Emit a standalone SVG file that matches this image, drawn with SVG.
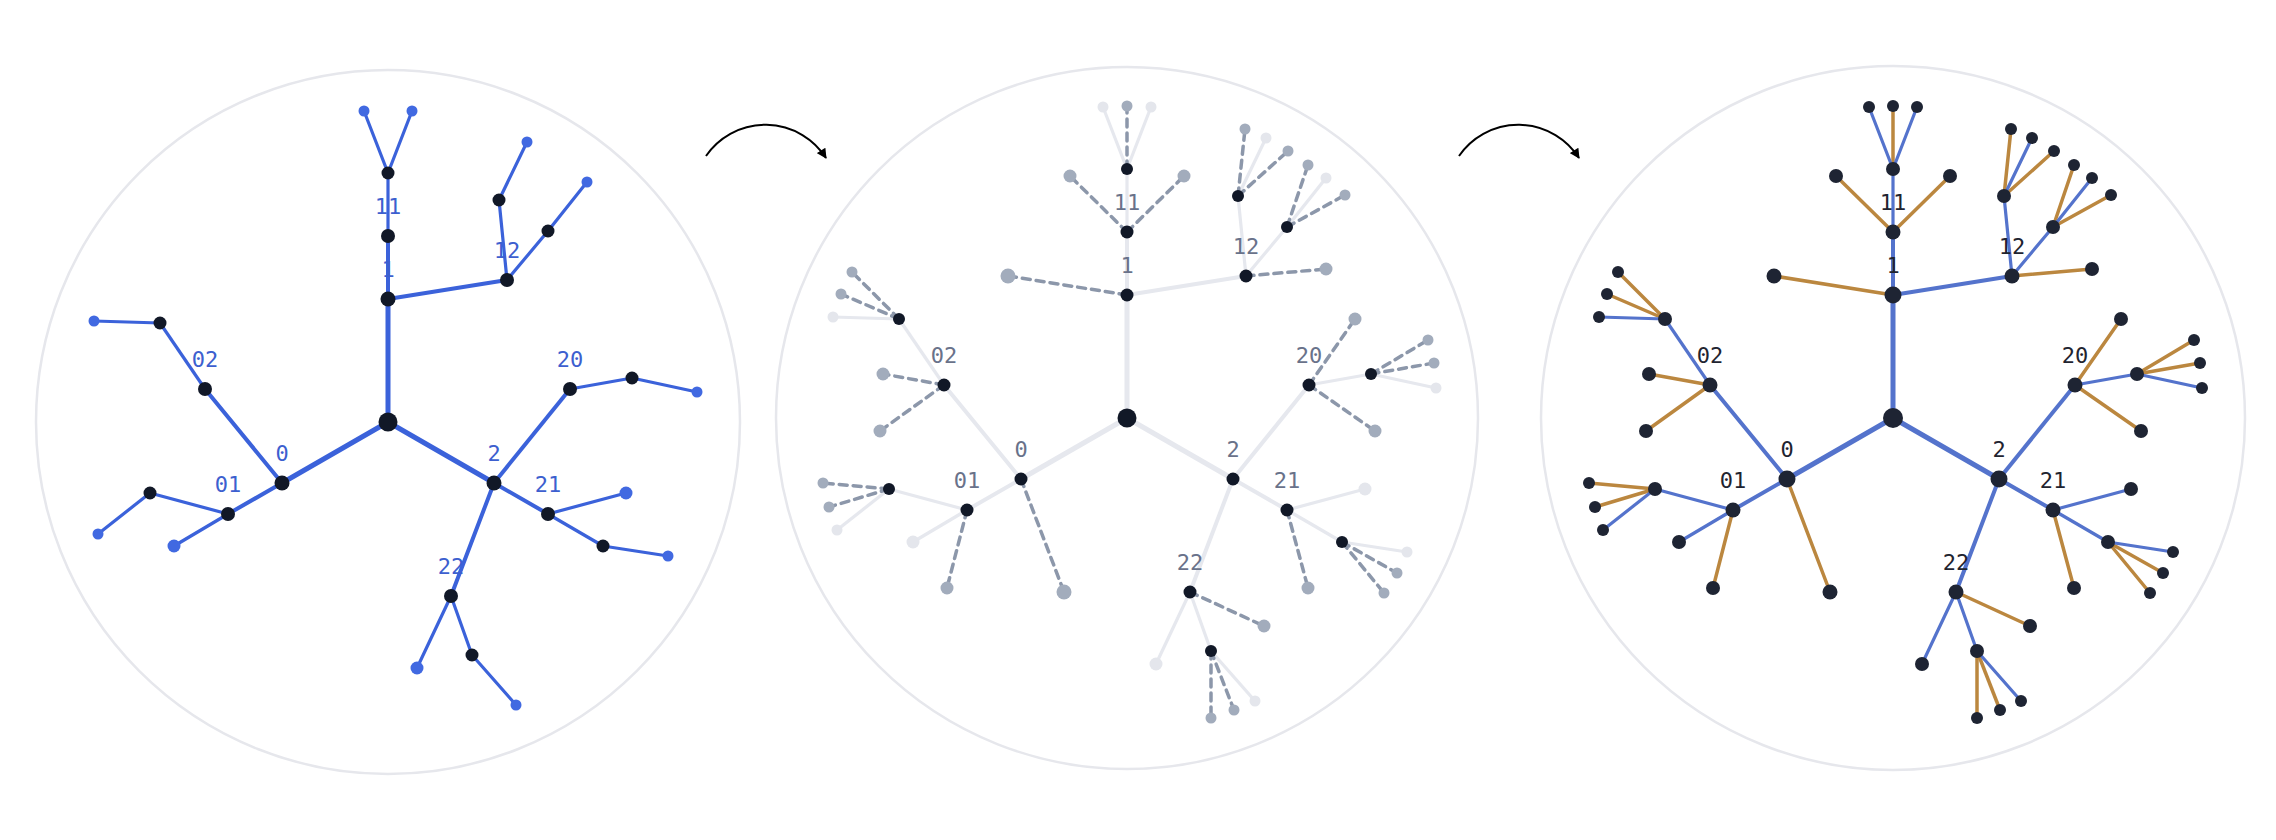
<svg xmlns="http://www.w3.org/2000/svg" width="2276" height="840" viewBox="0 0 2276 840">
<style>
.frame{fill:none;stroke:#e6e7ec;stroke-width:2.5}
line{stroke-linecap:round}
.w5{stroke-width:5}.w4{stroke-width:4}.w3{stroke-width:3.2}
.eL{stroke:#3b62da}
.eM{stroke:#e6e8ee}
.dM{stroke:#8c97aa;stroke-width:3.5;stroke-dasharray:8 6;stroke-linecap:butt}
.eR{stroke:#5473cc}
.oR{stroke:#bb873f;stroke-width:3.5}
.kL,.kM{fill:#111827}
.kR{fill:#1e2433}
.bL{fill:#4169e1}
.gM{fill:#a2acbc}
.pM{fill:#e4e6ec}
.lab{font-family:"DejaVu Sans Mono","Liberation Mono",monospace;font-size:22px;text-anchor:middle}
.tL{fill:#3d5fcf}.tM{fill:#69728a}.tR{fill:#1f2430}
.arrow{fill:none;stroke:#000;stroke-width:2}
</style>
<defs>
<marker id="ah" viewBox="0 0 10 10" refX="9" refY="5" markerUnits="userSpaceOnUse" markerWidth="11" markerHeight="10" orient="auto">
<path d="M0,0 L10,5 L0,10 z" fill="#000"/>
</marker>
</defs>

<g id="arrows">
<path class="arrow" d="M706,156 A72,72 0 0 1 826,158" marker-end="url(#ah)"/>
<path class="arrow" d="M1459,156 A72,72 0 0 1 1579,158" marker-end="url(#ah)"/>
</g>

<!-- LEFT PANEL -->
<g id="left-panel" transform="translate(388,422)">
<circle class="frame" r="352"/>
<g id="left-connectors" class="eL">
<line class="w5" x1="0" y1="0" x2="0" y2="-123"/>
<line class="w5" x1="0" y1="0" x2="-106" y2="61"/>
<line class="w5" x1="0" y1="0" x2="106" y2="61"/>
<line class="w4" x1="0" y1="-123" x2="0" y2="-186"/>
<line class="w4" x1="0" y1="-123" x2="119" y2="-142"/>
<line class="w4" x1="-106" y1="61" x2="-160" y2="92"/>
<line class="w4" x1="-106" y1="61" x2="-183" y2="-33"/>
<line class="w4" x1="106" y1="61" x2="160" y2="92"/>
<line class="w4" x1="106" y1="61" x2="182" y2="-33"/>
<line class="w4" x1="106" y1="61" x2="63" y2="174"/>
<line class="w3" x1="0" y1="-186" x2="0" y2="-249"/>
<line class="w3" x1="119" y1="-142" x2="111" y2="-222"/>
<line class="w3" x1="119" y1="-142" x2="160" y2="-191"/>
<line class="w3" x1="-183" y1="-33" x2="-228" y2="-99"/>
<line class="w3" x1="-160" y1="92" x2="-238" y2="71"/>
<line class="w3" x1="182" y1="-33" x2="244" y2="-44"/>
<line class="w3" x1="160" y1="92" x2="215" y2="124"/>
<line class="w3" x1="63" y1="174" x2="84" y2="233"/>
<line class="w3" x1="0" y1="-249" x2="-24" y2="-311"/>
<line class="w3" x1="0" y1="-249" x2="24" y2="-311"/>
<line class="w3" x1="111" y1="-222" x2="139" y2="-280"/>
<line class="w3" x1="160" y1="-191" x2="199" y2="-240"/>
<line class="w3" x1="-228" y1="-99" x2="-294" y2="-101"/>
<line class="w3" x1="244" y1="-44" x2="309" y2="-30"/>
<line class="w3" x1="-160" y1="92" x2="-214" y2="124"/>
<line class="w3" x1="-238" y1="71" x2="-290" y2="112"/>
<line class="w3" x1="160" y1="92" x2="238" y2="71"/>
<line class="w3" x1="215" y1="124" x2="280" y2="134"/>
<line class="w3" x1="63" y1="174" x2="29" y2="246"/>
<line class="w3" x1="84" y1="233" x2="128" y2="283"/>
</g>
<g id="L-root"><circle class="kL" r="9.5"/></g>
<g id="L-1"><circle class="kL" cx="0" cy="-123" r="7.5"/><text class="lab tL" x="0" y="-145">1</text></g>
<g id="L-0"><circle class="kL" cx="-106" cy="61" r="7.5"/><text class="lab tL" x="-106" y="39">0</text></g>
<g id="L-2"><circle class="kL" cx="106" cy="61" r="7.5"/><text class="lab tL" x="106" y="39">2</text></g>
<g id="L-11"><circle class="kL" cx="0" cy="-186" r="7"/><text class="lab tL" x="0" y="-208">11</text></g>
<g id="L-12"><circle class="kL" cx="119" cy="-142" r="7"/><text class="lab tL" x="119" y="-164">12</text></g>
<g id="L-01"><circle class="kL" cx="-160" cy="92" r="7"/><text class="lab tL" x="-160" y="70">01</text></g>
<g id="L-02"><circle class="kL" cx="-183" cy="-33" r="7"/><text class="lab tL" x="-183" y="-55">02</text></g>
<g id="L-20"><circle class="kL" cx="182" cy="-33" r="7"/><text class="lab tL" x="182" y="-55">20</text></g>
<g id="L-21"><circle class="kL" cx="160" cy="92" r="7"/><text class="lab tL" x="160" y="70">21</text></g>
<g id="L-22"><circle class="kL" cx="63" cy="174" r="7"/><text class="lab tL" x="63" y="152">22</text></g>
<g id="L-c11"><circle class="kL" cx="0" cy="-249" r="6.5"/></g>
<g id="L-c12a"><circle class="kL" cx="111" cy="-222" r="6.5"/></g>
<g id="L-c12b"><circle class="kL" cx="160" cy="-191" r="6.5"/></g>
<g id="L-c02"><circle class="kL" cx="-228" cy="-99" r="6.5"/></g>
<g id="L-c01"><circle class="kL" cx="-238" cy="71" r="6.5"/></g>
<g id="L-c20"><circle class="kL" cx="244" cy="-44" r="6.5"/></g>
<g id="L-c21"><circle class="kL" cx="215" cy="124" r="6.5"/></g>
<g id="L-c22"><circle class="kL" cx="84" cy="233" r="6.5"/></g>
<g id="L-leaf1"><circle class="bL" cx="-24" cy="-311" r="5.5"/></g>
<g id="L-leaf2"><circle class="bL" cx="24" cy="-311" r="5.5"/></g>
<g id="L-leaf3"><circle class="bL" cx="139" cy="-280" r="5.5"/></g>
<g id="L-leaf4"><circle class="bL" cx="199" cy="-240" r="5.5"/></g>
<g id="L-leaf5"><circle class="bL" cx="-294" cy="-101" r="5.5"/></g>
<g id="L-leaf6"><circle class="bL" cx="309" cy="-30" r="5.5"/></g>
<g id="L-leaf7"><circle class="bL" cx="-214" cy="124" r="6.5"/></g>
<g id="L-leaf8"><circle class="bL" cx="-290" cy="112" r="5.5"/></g>
<g id="L-leaf9"><circle class="bL" cx="238" cy="71" r="6.5"/></g>
<g id="L-leaf10"><circle class="bL" cx="280" cy="134" r="5.5"/></g>
<g id="L-leaf11"><circle class="bL" cx="29" cy="246" r="6.5"/></g>
<g id="L-leaf12"><circle class="bL" cx="128" cy="283" r="5.5"/></g>
</g>

<!-- MIDDLE PANEL -->
<g id="middle-panel" transform="translate(1127,418)">
<circle class="frame" r="351"/>
<g id="middle-connectors">
<g class="eM">
<line class="w5" x1="0" y1="0" x2="0" y2="-123"/>
<line class="w5" x1="0" y1="0" x2="-106" y2="61"/>
<line class="w5" x1="0" y1="0" x2="106" y2="61"/>
<line class="w4" x1="0" y1="-123" x2="0" y2="-186"/>
<line class="w4" x1="0" y1="-123" x2="119" y2="-142"/>
<line class="w4" x1="-106" y1="61" x2="-160" y2="92"/>
<line class="w4" x1="-106" y1="61" x2="-183" y2="-33"/>
<line class="w4" x1="106" y1="61" x2="160" y2="92"/>
<line class="w4" x1="106" y1="61" x2="182" y2="-33"/>
<line class="w4" x1="106" y1="61" x2="63" y2="174"/>
<line class="w3" x1="0" y1="-186" x2="0" y2="-249"/>
<line class="w3" x1="119" y1="-142" x2="111" y2="-222"/>
<line class="w3" x1="119" y1="-142" x2="160" y2="-191"/>
<line class="w3" x1="-183" y1="-33" x2="-228" y2="-99"/>
<line class="w3" x1="-160" y1="92" x2="-238" y2="71"/>
<line class="w3" x1="182" y1="-33" x2="244" y2="-44"/>
<line class="w3" x1="160" y1="92" x2="215" y2="124"/>
<line class="w3" x1="63" y1="174" x2="84" y2="233"/>
<line class="w3" x1="0" y1="-249" x2="-24" y2="-311"/>
<line class="w3" x1="0" y1="-249" x2="24" y2="-311"/>
<line class="w3" x1="111" y1="-222" x2="139" y2="-280"/>
<line class="w3" x1="160" y1="-191" x2="199" y2="-240"/>
<line class="w3" x1="-228" y1="-99" x2="-294" y2="-101"/>
<line class="w3" x1="244" y1="-44" x2="309" y2="-30"/>
<line class="w3" x1="-160" y1="92" x2="-214" y2="124"/>
<line class="w3" x1="-238" y1="71" x2="-290" y2="112"/>
<line class="w3" x1="160" y1="92" x2="238" y2="71"/>
<line class="w3" x1="215" y1="124" x2="280" y2="134"/>
<line class="w3" x1="63" y1="174" x2="29" y2="246"/>
<line class="w3" x1="84" y1="233" x2="128" y2="283"/>
</g>
<g class="dM">
<line x1="0" y1="-249" x2="0" y2="-312"/>
<line x1="0" y1="-186" x2="-57" y2="-242"/>
<line x1="0" y1="-186" x2="57" y2="-242"/>
<line x1="0" y1="-123" x2="-119" y2="-142"/>
<line x1="119" y1="-142" x2="199" y2="-149"/>
<line x1="111" y1="-222" x2="118" y2="-289"/>
<line x1="111" y1="-222" x2="161" y2="-267"/>
<line x1="160" y1="-191" x2="181" y2="-253"/>
<line x1="160" y1="-191" x2="218" y2="-223"/>
<line x1="-183" y1="-33" x2="-244" y2="-44"/>
<line x1="-183" y1="-33" x2="-247" y2="13"/>
<line x1="-228" y1="-99" x2="-275" y2="-146"/>
<line x1="-228" y1="-99" x2="-286" y2="-124"/>
<line x1="182" y1="-33" x2="228" y2="-99"/>
<line x1="182" y1="-33" x2="248" y2="13"/>
<line x1="244" y1="-44" x2="301" y2="-78"/>
<line x1="244" y1="-44" x2="307" y2="-55"/>
<line x1="-106" y1="61" x2="-63" y2="174"/>
<line x1="-160" y1="92" x2="-180" y2="170"/>
<line x1="-238" y1="71" x2="-304" y2="65"/>
<line x1="-238" y1="71" x2="-298" y2="89"/>
<line x1="160" y1="92" x2="181" y2="170"/>
<line x1="215" y1="124" x2="270" y2="155"/>
<line x1="215" y1="124" x2="257" y2="175"/>
<line x1="63" y1="174" x2="137" y2="208"/>
<line x1="84" y1="233" x2="84" y2="300"/>
<line x1="84" y1="233" x2="107" y2="292"/>
</g>
</g>
<g id="M-root"><circle class="kM" r="9.5"/></g>
<g id="M-1"><circle class="kM" cx="0" cy="-123" r="6.5"/><text class="lab tM" x="0" y="-145">1</text></g>
<g id="M-0"><circle class="kM" cx="-106" cy="61" r="6.5"/><text class="lab tM" x="-106" y="39">0</text></g>
<g id="M-2"><circle class="kM" cx="106" cy="61" r="6.5"/><text class="lab tM" x="106" y="39">2</text></g>
<g id="M-11"><circle class="kM" cx="0" cy="-186" r="6.5"/><text class="lab tM" x="0" y="-208">11</text></g>
<g id="M-12"><circle class="kM" cx="119" cy="-142" r="6.5"/><text class="lab tM" x="119" y="-164">12</text></g>
<g id="M-01"><circle class="kM" cx="-160" cy="92" r="6.5"/><text class="lab tM" x="-160" y="70">01</text></g>
<g id="M-02"><circle class="kM" cx="-183" cy="-33" r="6.5"/><text class="lab tM" x="-183" y="-55">02</text></g>
<g id="M-20"><circle class="kM" cx="182" cy="-33" r="6.5"/><text class="lab tM" x="182" y="-55">20</text></g>
<g id="M-21"><circle class="kM" cx="160" cy="92" r="6.5"/><text class="lab tM" x="160" y="70">21</text></g>
<g id="M-22"><circle class="kM" cx="63" cy="174" r="6.5"/><text class="lab tM" x="63" y="152">22</text></g>
<g id="M-c11"><circle class="kM" cx="0" cy="-249" r="6"/></g>
<g id="M-c12a"><circle class="kM" cx="111" cy="-222" r="6"/></g>
<g id="M-c12b"><circle class="kM" cx="160" cy="-191" r="6"/></g>
<g id="M-c02"><circle class="kM" cx="-228" cy="-99" r="6"/></g>
<g id="M-c01"><circle class="kM" cx="-238" cy="71" r="6"/></g>
<g id="M-c20"><circle class="kM" cx="244" cy="-44" r="6"/></g>
<g id="M-c21"><circle class="kM" cx="215" cy="124" r="6"/></g>
<g id="M-c22"><circle class="kM" cx="84" cy="233" r="6"/></g>
<g id="M-t1"><circle class="pM" cx="-24" cy="-311" r="5.5"/></g>
<g id="M-t2"><circle class="pM" cx="24" cy="-311" r="5.5"/></g>
<g id="M-t3"><circle class="pM" cx="139" cy="-280" r="5.5"/></g>
<g id="M-t4"><circle class="pM" cx="199" cy="-240" r="5.5"/></g>
<g id="M-t5"><circle class="pM" cx="-294" cy="-101" r="5.5"/></g>
<g id="M-t6"><circle class="pM" cx="309" cy="-30" r="5.5"/></g>
<g id="M-t7"><circle class="pM" cx="-214" cy="124" r="6.5"/></g>
<g id="M-t8"><circle class="pM" cx="-290" cy="112" r="5.5"/></g>
<g id="M-t9"><circle class="pM" cx="238" cy="71" r="6.5"/></g>
<g id="M-t10"><circle class="pM" cx="280" cy="134" r="5.5"/></g>
<g id="M-t11"><circle class="pM" cx="29" cy="246" r="6.5"/></g>
<g id="M-t12"><circle class="pM" cx="128" cy="283" r="5.5"/></g>
<g id="M-d1"><circle class="gM" cx="0" cy="-312" r="5.5"/></g>
<g id="M-d2"><circle class="gM" cx="-57" cy="-242" r="6.5"/></g>
<g id="M-d3"><circle class="gM" cx="57" cy="-242" r="6.5"/></g>
<g id="M-d4"><circle class="gM" cx="-119" cy="-142" r="7.5"/></g>
<g id="M-d5"><circle class="gM" cx="199" cy="-149" r="6.5"/></g>
<g id="M-d6"><circle class="gM" cx="118" cy="-289" r="5.5"/></g>
<g id="M-d7"><circle class="gM" cx="161" cy="-267" r="5.5"/></g>
<g id="M-d8"><circle class="gM" cx="181" cy="-253" r="5.5"/></g>
<g id="M-d9"><circle class="gM" cx="218" cy="-223" r="5.5"/></g>
<g id="M-d10"><circle class="gM" cx="-244" cy="-44" r="6.5"/></g>
<g id="M-d11"><circle class="gM" cx="-247" cy="13" r="6.5"/></g>
<g id="M-d12"><circle class="gM" cx="-275" cy="-146" r="5.5"/></g>
<g id="M-d13"><circle class="gM" cx="-286" cy="-124" r="5.5"/></g>
<g id="M-d14"><circle class="gM" cx="228" cy="-99" r="6.5"/></g>
<g id="M-d15"><circle class="gM" cx="248" cy="13" r="6.5"/></g>
<g id="M-d16"><circle class="gM" cx="301" cy="-78" r="5.5"/></g>
<g id="M-d17"><circle class="gM" cx="307" cy="-55" r="5.5"/></g>
<g id="M-d18"><circle class="gM" cx="-63" cy="174" r="7.5"/></g>
<g id="M-d19"><circle class="gM" cx="-180" cy="170" r="6.5"/></g>
<g id="M-d20"><circle class="gM" cx="-304" cy="65" r="5.5"/></g>
<g id="M-d21"><circle class="gM" cx="-298" cy="89" r="5.5"/></g>
<g id="M-d22"><circle class="gM" cx="181" cy="170" r="6.5"/></g>
<g id="M-d23"><circle class="gM" cx="270" cy="155" r="5.5"/></g>
<g id="M-d24"><circle class="gM" cx="257" cy="175" r="5.5"/></g>
<g id="M-d25"><circle class="gM" cx="137" cy="208" r="6.5"/></g>
<g id="M-d26"><circle class="gM" cx="84" cy="300" r="5.5"/></g>
<g id="M-d27"><circle class="gM" cx="107" cy="292" r="5.5"/></g>
</g>

<!-- RIGHT PANEL -->
<g id="right-panel" transform="translate(1893,418)">
<circle class="frame" r="352"/>
<g id="right-connectors">
<g class="oR">
<line x1="0" y1="-249" x2="0" y2="-312"/>
<line x1="0" y1="-186" x2="-57" y2="-242"/>
<line x1="0" y1="-186" x2="57" y2="-242"/>
<line x1="0" y1="-123" x2="-119" y2="-142"/>
<line x1="119" y1="-142" x2="199" y2="-149"/>
<line x1="111" y1="-222" x2="118" y2="-289"/>
<line x1="111" y1="-222" x2="161" y2="-267"/>
<line x1="160" y1="-191" x2="181" y2="-253"/>
<line x1="160" y1="-191" x2="218" y2="-223"/>
<line x1="-183" y1="-33" x2="-244" y2="-44"/>
<line x1="-183" y1="-33" x2="-247" y2="13"/>
<line x1="-228" y1="-99" x2="-275" y2="-146"/>
<line x1="-228" y1="-99" x2="-286" y2="-124"/>
<line x1="182" y1="-33" x2="228" y2="-99"/>
<line x1="182" y1="-33" x2="248" y2="13"/>
<line x1="244" y1="-44" x2="301" y2="-78"/>
<line x1="244" y1="-44" x2="307" y2="-55"/>
<line x1="-106" y1="61" x2="-63" y2="174"/>
<line x1="-160" y1="92" x2="-180" y2="170"/>
<line x1="-238" y1="71" x2="-304" y2="65"/>
<line x1="-238" y1="71" x2="-298" y2="89"/>
<line x1="160" y1="92" x2="181" y2="170"/>
<line x1="215" y1="124" x2="270" y2="155"/>
<line x1="215" y1="124" x2="257" y2="175"/>
<line x1="63" y1="174" x2="137" y2="208"/>
<line x1="84" y1="233" x2="84" y2="300"/>
<line x1="84" y1="233" x2="107" y2="292"/>
</g>
<g class="eR">
<line class="w5" x1="0" y1="0" x2="0" y2="-123"/>
<line class="w5" x1="0" y1="0" x2="-106" y2="61"/>
<line class="w5" x1="0" y1="0" x2="106" y2="61"/>
<line class="w4" x1="0" y1="-123" x2="0" y2="-186"/>
<line class="w4" x1="0" y1="-123" x2="119" y2="-142"/>
<line class="w4" x1="-106" y1="61" x2="-160" y2="92"/>
<line class="w4" x1="-106" y1="61" x2="-183" y2="-33"/>
<line class="w4" x1="106" y1="61" x2="160" y2="92"/>
<line class="w4" x1="106" y1="61" x2="182" y2="-33"/>
<line class="w4" x1="106" y1="61" x2="63" y2="174"/>
<line class="w3" x1="0" y1="-186" x2="0" y2="-249"/>
<line class="w3" x1="119" y1="-142" x2="111" y2="-222"/>
<line class="w3" x1="119" y1="-142" x2="160" y2="-191"/>
<line class="w3" x1="-183" y1="-33" x2="-228" y2="-99"/>
<line class="w3" x1="-160" y1="92" x2="-238" y2="71"/>
<line class="w3" x1="182" y1="-33" x2="244" y2="-44"/>
<line class="w3" x1="160" y1="92" x2="215" y2="124"/>
<line class="w3" x1="63" y1="174" x2="84" y2="233"/>
<line class="w3" x1="0" y1="-249" x2="-24" y2="-311"/>
<line class="w3" x1="0" y1="-249" x2="24" y2="-311"/>
<line class="w3" x1="111" y1="-222" x2="139" y2="-280"/>
<line class="w3" x1="160" y1="-191" x2="199" y2="-240"/>
<line class="w3" x1="-228" y1="-99" x2="-294" y2="-101"/>
<line class="w3" x1="244" y1="-44" x2="309" y2="-30"/>
<line class="w3" x1="-160" y1="92" x2="-214" y2="124"/>
<line class="w3" x1="-238" y1="71" x2="-290" y2="112"/>
<line class="w3" x1="160" y1="92" x2="238" y2="71"/>
<line class="w3" x1="215" y1="124" x2="280" y2="134"/>
<line class="w3" x1="63" y1="174" x2="29" y2="246"/>
<line class="w3" x1="84" y1="233" x2="128" y2="283"/>
</g>
</g>
<g id="R-root"><circle class="kR" r="10"/></g>
<g id="R-1"><circle class="kR" cx="0" cy="-123" r="8.5"/><text class="lab tR" x="0" y="-145">1</text></g>
<g id="R-0"><circle class="kR" cx="-106" cy="61" r="8.5"/><text class="lab tR" x="-106" y="39">0</text></g>
<g id="R-2"><circle class="kR" cx="106" cy="61" r="8.5"/><text class="lab tR" x="106" y="39">2</text></g>
<g id="R-11"><circle class="kR" cx="0" cy="-186" r="7.5"/><text class="lab tR" x="0" y="-208">11</text></g>
<g id="R-12"><circle class="kR" cx="119" cy="-142" r="7.5"/><text class="lab tR" x="119" y="-164">12</text></g>
<g id="R-01"><circle class="kR" cx="-160" cy="92" r="7.5"/><text class="lab tR" x="-160" y="70">01</text></g>
<g id="R-02"><circle class="kR" cx="-183" cy="-33" r="7.5"/><text class="lab tR" x="-183" y="-55">02</text></g>
<g id="R-20"><circle class="kR" cx="182" cy="-33" r="7.5"/><text class="lab tR" x="182" y="-55">20</text></g>
<g id="R-21"><circle class="kR" cx="160" cy="92" r="7.5"/><text class="lab tR" x="160" y="70">21</text></g>
<g id="R-22"><circle class="kR" cx="63" cy="174" r="7.5"/><text class="lab tR" x="63" y="152">22</text></g>
<g id="R-c11"><circle class="kR" cx="0" cy="-249" r="7"/></g>
<g id="R-c12a"><circle class="kR" cx="111" cy="-222" r="7"/></g>
<g id="R-c12b"><circle class="kR" cx="160" cy="-191" r="7"/></g>
<g id="R-c02"><circle class="kR" cx="-228" cy="-99" r="7"/></g>
<g id="R-c01"><circle class="kR" cx="-238" cy="71" r="7"/></g>
<g id="R-c20"><circle class="kR" cx="244" cy="-44" r="7"/></g>
<g id="R-c21"><circle class="kR" cx="215" cy="124" r="7"/></g>
<g id="R-c22"><circle class="kR" cx="84" cy="233" r="7"/></g>
<g id="R-t1"><circle class="kR" cx="-24" cy="-311" r="6"/></g>
<g id="R-t2"><circle class="kR" cx="24" cy="-311" r="6"/></g>
<g id="R-t3"><circle class="kR" cx="139" cy="-280" r="6"/></g>
<g id="R-t4"><circle class="kR" cx="199" cy="-240" r="6"/></g>
<g id="R-t5"><circle class="kR" cx="-294" cy="-101" r="6"/></g>
<g id="R-t6"><circle class="kR" cx="309" cy="-30" r="6"/></g>
<g id="R-t7"><circle class="kR" cx="-214" cy="124" r="7"/></g>
<g id="R-t8"><circle class="kR" cx="-290" cy="112" r="6"/></g>
<g id="R-t9"><circle class="kR" cx="238" cy="71" r="7"/></g>
<g id="R-t10"><circle class="kR" cx="280" cy="134" r="6"/></g>
<g id="R-t11"><circle class="kR" cx="29" cy="246" r="7"/></g>
<g id="R-t12"><circle class="kR" cx="128" cy="283" r="6"/></g>
<g id="R-d1"><circle class="kR" cx="0" cy="-312" r="6"/></g>
<g id="R-d2"><circle class="kR" cx="-57" cy="-242" r="7"/></g>
<g id="R-d3"><circle class="kR" cx="57" cy="-242" r="7"/></g>
<g id="R-d4"><circle class="kR" cx="-119" cy="-142" r="7.5"/></g>
<g id="R-d5"><circle class="kR" cx="199" cy="-149" r="7"/></g>
<g id="R-d6"><circle class="kR" cx="118" cy="-289" r="6"/></g>
<g id="R-d7"><circle class="kR" cx="161" cy="-267" r="6"/></g>
<g id="R-d8"><circle class="kR" cx="181" cy="-253" r="6"/></g>
<g id="R-d9"><circle class="kR" cx="218" cy="-223" r="6"/></g>
<g id="R-d10"><circle class="kR" cx="-244" cy="-44" r="7"/></g>
<g id="R-d11"><circle class="kR" cx="-247" cy="13" r="7"/></g>
<g id="R-d12"><circle class="kR" cx="-275" cy="-146" r="6"/></g>
<g id="R-d13"><circle class="kR" cx="-286" cy="-124" r="6"/></g>
<g id="R-d14"><circle class="kR" cx="228" cy="-99" r="7"/></g>
<g id="R-d15"><circle class="kR" cx="248" cy="13" r="7"/></g>
<g id="R-d16"><circle class="kR" cx="301" cy="-78" r="6"/></g>
<g id="R-d17"><circle class="kR" cx="307" cy="-55" r="6"/></g>
<g id="R-d18"><circle class="kR" cx="-63" cy="174" r="7.5"/></g>
<g id="R-d19"><circle class="kR" cx="-180" cy="170" r="7"/></g>
<g id="R-d20"><circle class="kR" cx="-304" cy="65" r="6"/></g>
<g id="R-d21"><circle class="kR" cx="-298" cy="89" r="6"/></g>
<g id="R-d22"><circle class="kR" cx="181" cy="170" r="7"/></g>
<g id="R-d23"><circle class="kR" cx="270" cy="155" r="6"/></g>
<g id="R-d24"><circle class="kR" cx="257" cy="175" r="6"/></g>
<g id="R-d25"><circle class="kR" cx="137" cy="208" r="7"/></g>
<g id="R-d26"><circle class="kR" cx="84" cy="300" r="6"/></g>
<g id="R-d27"><circle class="kR" cx="107" cy="292" r="6"/></g>
</g>
</svg>
